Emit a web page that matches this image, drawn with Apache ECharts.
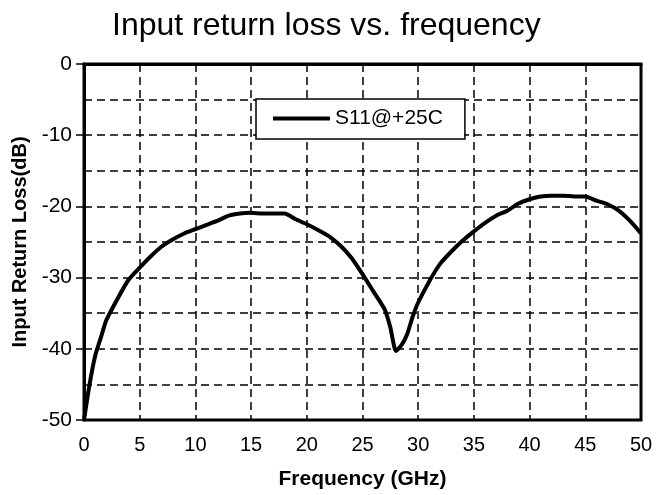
<!DOCTYPE html>
<html>
<head>
	<meta charset="utf-8" />
	<title>Input return loss vs. frequency</title>
	<script src="https://cdn.jsdelivr.net/npm/echarts@6/dist/echarts.min.js"></script>
	<style>
		html, body {margin:0;padding:0;background:#fff;}
		#chart {width:657px;height:495px;}
	</style>
</head>
<body>
	<div id="chart"></div>

	<script>
		// frequency (GHz)
		var freq = [0, 0.5, 1, 1.5, 2, 3, 4, 5, 6, 7, 8, 9, 10, 11, 12, 13, 14, 15, 16, 17, 18, 19, 20,
			21, 22, 23, 24, 25, 26, 27, 27.5, 28, 28.5, 29, 29.5, 30, 31, 32, 33, 34, 35, 36, 37, 38, 39,
			40, 41, 42, 43, 44, 45, 46, 47, 48, 49, 50];
		// S11 @ +25C (dB)
		var s11 = [-50, -45, -41, -38.5, -36, -33, -30.3, -28.6, -27, -25.6, -24.6, -23.8, -23.2, -22.6, -22, -21.3, -21, -20.9, -21, -21, -21, -21.8, -22.5,
			-23.3, -24.2, -25.5, -27.2, -29.5, -32, -34.5, -37, -40.3, -39.5, -38, -35.5, -33.5, -30.5, -28, -26.3, -24.8, -23.5, -22.3, -21.3, -20.6, -19.6,
			-19, -18.6, -18.5, -18.5, -18.6, -18.6, -19.2, -19.7, -20.6, -22, -23.8];
		var seriesName = 'S11@+25C';

		var chart = echarts.init(document.getElementById('chart'));

		var option = {
			backgroundColor: '#fff',
			textStyle: {
				fontFamily: 'Liberation Sans, Arial, sans-serif'
			},
			title: {
				text: 'Input return loss vs. frequency',
				left: 107,
				top: 5,
				textStyle: {
					fontSize: 32,
					fontWeight: 'normal',
					color: '#000'
				}
			},
			legend: {
				data: [seriesName],
				left: 256,
				top: 99,
				icon: 'rect',
				itemWidth: 57,
				itemHeight: 4,
				padding: [9, 22, 10, 17],
				borderColor: '#000',
				borderWidth: 1.5,
				backgroundColor: '#fff',
				textStyle: {
					fontSize: 21,
					color: '#000'
				}
			},
			grid: {
				left: 84,
				right: 16,
				top: 64,
				bottom: 74,
				show: true,
				borderColor: '#000',
				borderWidth: 3
			},
			xAxis: {
				type: 'value',
				min: 0,
				max: 50,
				interval: 5,
				name: 'Frequency (GHz)',
				nameLocation: 'middle',
				nameGap: 49,
				nameTextStyle: {
					fontSize: 21,
					fontWeight: 'bold',
					color: '#000'
				},
				axisLine: {lineStyle: {color: '#000', width: 3}},
				axisTick: {show: false},
				axisLabel: {fontSize: 20, color: '#000', margin: 15},
				splitLine: {lineStyle: {color: '#000', type: [8, 5], width: 1.5}}
			},
			yAxis: {
				type: 'value',
				min: -50,
				max: 0,
				interval: 10,
				splitNumber: 2,
				name: 'Input Return Loss(dB)',
				nameLocation: 'middle',
				nameGap: 54,
				nameTextStyle: {
					fontSize: 20,
					fontWeight: 'bold',
					color: '#000'
				},
				axisLine: {show: true, lineStyle: {color: '#000', width: 3}},
				axisTick: {show: true, length: 8, lineStyle: {color: '#000', width: 1.5}},
				axisLabel: {fontSize: 21, color: '#000', margin: 12},
				splitLine: {lineStyle: {color: '#000', type: [8, 5], width: 1.5}},
				minorTick: {show: false, splitNumber: 2},
				minorSplitLine: {show: true, lineStyle: {color: '#000', type: [8, 5], width: 1.5}}
			},
			series: [
				{
					name: seriesName,
					type: 'line',
					data: freq.map((f, i) => [f, s11[i]]),
					symbol: 'none',
					smooth: 0.2,
					itemStyle: {color: '#000'},
					lineStyle: {color: '#000', width: 4}
				}
			]
		};

		chart.setOption(option);
	</script>
</body>
</html>
